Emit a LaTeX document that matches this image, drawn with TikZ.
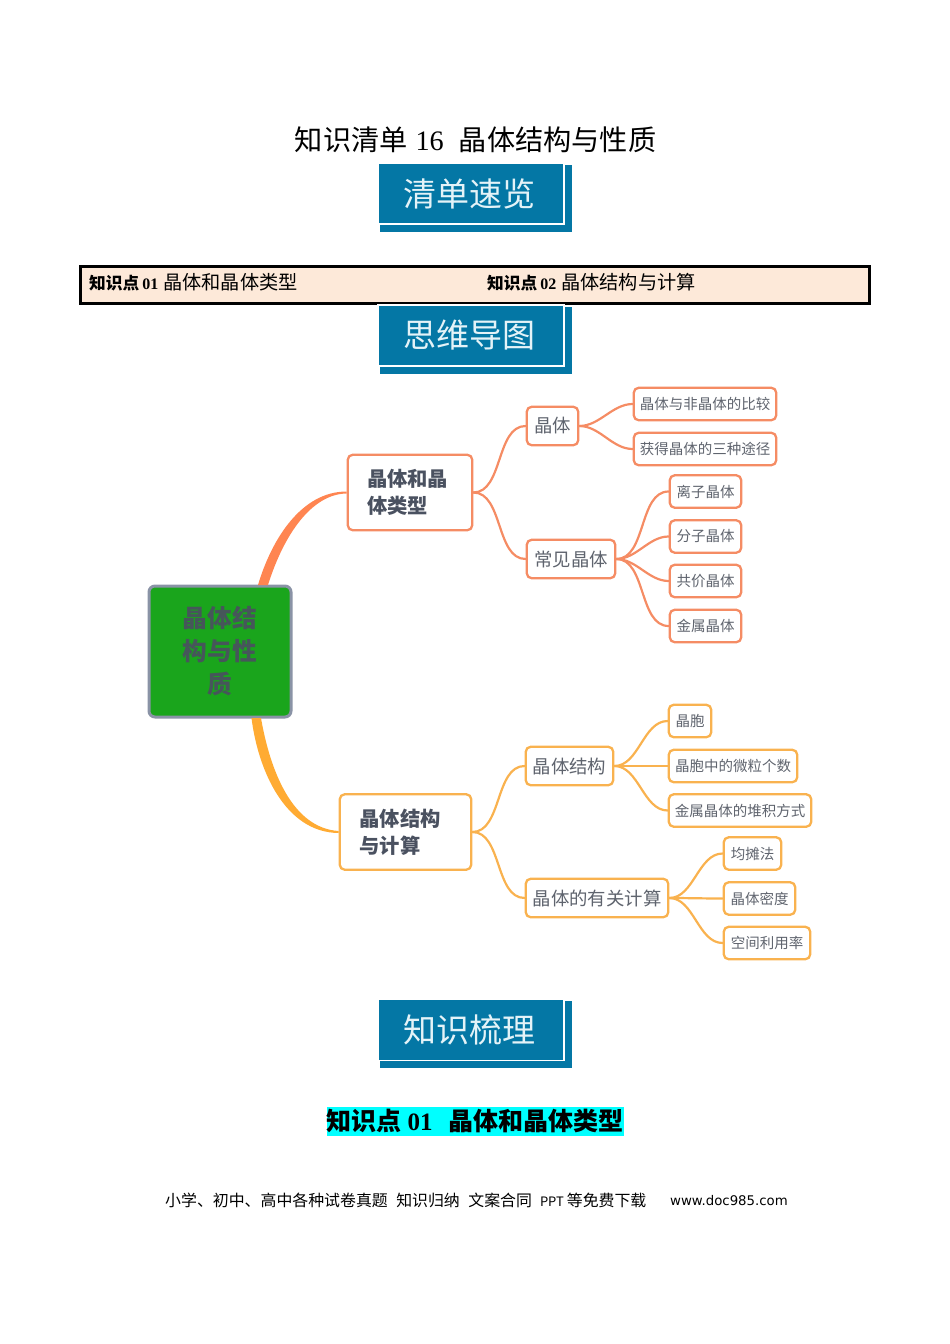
\documentclass[tikz,border=0pt]{standalone}
\usepackage{fontspec}
\usepackage{xcolor}
\setmainfont{Noto Sans CJK SC}
\newfontfamily\latinserif{Liberation Serif}
\newfontfamily\latinsans{DejaVu Sans}
\usetikzlibrary{calc}

\definecolor{headBlue}{HTML}{0477A5}
\definecolor{headText}{HTML}{E4F3F8}
\definecolor{bandFill}{HTML}{FDE9D9}
\definecolor{markCyan}{HTML}{00FFFF}
\definecolor{rootGreen}{HTML}{1AA51C}
\definecolor{rootEdge}{HTML}{8A93A6}
\definecolor{rootText}{HTML}{46565A}
\definecolor{lineRed}{HTML}{F58C64}
\definecolor{lineGold}{HTML}{F9B24F}
\definecolor{thickRed}{HTML}{FF8551}
\definecolor{thickGold}{HTML}{FFAB33}
\definecolor{boldText}{HTML}{4A5160}
\definecolor{leafText}{HTML}{5F646E}

\tikzset{
    headbox/.style={fill=headBlue, draw=white, line width=1.5pt, text=headText, inner sep=0pt,
        minimum width=186pt, minimum height=61pt, font=\fontsize{33}{36}\selectfont},
    headshadow/.style={fill=headBlue, inner sep=0pt, minimum width=192pt, minimum height=67pt},
    bandbox/.style={fill=bandFill, draw=black, line width=2.6pt, inner sep=0pt,
        minimum width=789pt, minimum height=37pt},
    bandtext/.style={anchor=west, inner sep=0pt, font=\fontsize{19.2}{22}\selectfont},
    rootbox/.style={fill=rootGreen, draw=rootEdge, line width=3pt, rounded corners=6pt, inner sep=0pt,
        minimum width=142pt, minimum height=131pt, align=center, text=rootText,
        font=\bfseries\fontsize{24.7}{33}\selectfont},
    topicbox/.style={fill=white, line width=2.3pt, rounded corners=5pt, inner sep=0pt,
        minimum height=75.5pt, align=left, text=boldText, font=\bfseries\fontsize{20.3}{27}\selectfont},
    midbox/.style={fill=white, line width=2.3pt, rounded corners=5pt, inner sep=0pt,
        minimum height=38.5pt, text=leafText, font=\fontsize{18.4}{22}\selectfont},
    leafbox/.style={fill=white, line width=2.3pt, rounded corners=5pt, inner sep=0pt,
        minimum height=32.5pt, text=leafText, font=\fontsize{14.5}{18}\selectfont},
    linkline/.style={line width=2.2pt, line cap=round, looseness=0.9},
    plaintext/.style={inner sep=0pt}
}

\begin{document}
\begin{tikzpicture}[x=1pt, y=-1pt]
    \useasboundingbox (0,0) rectangle (950,1344);

    % Title
    \node[plaintext, font=\fontsize{28.2}{32}\selectfont] (title) at (475.5,140)
        {知识清单\hspace{8pt}{\latinserif 16}\hspace{15pt}晶体结构与性质};

    % Section headers
    \node[headshadow] (shadowOne) at (476,198.5) {};
    \node[headbox] (headOne) at (471,193.5) {\hspace*{-4pt}清单速览};

    % Index band
    \node[bandbox] (band) at (475,285) {};
    \node[bandtext] (bandLeft) at (89,282)
        {{\bfseries\fontsize{16.7}{20}\selectfont 知识点}\hspace{3pt}{\latinserif\bfseries\fontsize{16}{20}\selectfont 01}\hspace{5pt}晶体和晶体类型};
    \node[bandtext] (bandRight) at (487,282)
        {{\bfseries\fontsize{16.7}{20}\selectfont 知识点}\hspace{3pt}{\latinserif\bfseries\fontsize{16}{20}\selectfont 02}\hspace{5pt}晶体结构与计算};

    \node[headshadow] (shadowTwo) at (476,340) {};
    \node[headbox] (headTwo) at (471,335.5) {\hspace*{-4pt}思维导图};

    % Mind map: root and topics
    \node[rootbox] (root) at (220,651.5) {晶体结\\构与性\\质};
    \node[topicbox, draw=lineRed, minimum width=124.5pt, text width=86pt] (crystalTypes) at (410,492.5) {晶体和晶\\体类型};
    \node[topicbox, draw=lineGold, minimum width=131.5pt, text width=92pt] (structCalc) at (405.5,832) {晶体结构\\与计算};

    % Tapered branches from the root
    \coordinate (redStart) at (258,585);
    \coordinate (redInner) at (268,585);
    \coordinate (goldStart) at (251.5,718);
    \coordinate (goldInner) at (261,718);
    \fill[thickRed] (redStart) .. controls (272,538) and (302,491.5) .. ($(crystalTypes.west)+(0,-1)$)
        -- ($(crystalTypes.west)+(0,1)$) .. controls (312,494) and (284,534) .. (redInner) -- cycle;
    \fill[thickGold] (goldStart) .. controls (258,770) and (285,832.5) .. ($(structCalc.west)+(0,1)$)
        -- ($(structCalc.west)+(0,-1)$) .. controls (292,828) and (270,770) .. (goldInner) -- cycle;

    % Second level
    \foreach \name/\cx/\cy/\boxw/\label in {
        crystal/552.5/426/51.5/晶体,
        common/571/559/88.5/常见晶体} {
        \node[midbox, draw=lineRed, minimum width=\boxw pt] (\name) at (\cx,\cy) {\label};
    }
    \foreach \name/\cx/\cy/\boxw/\label in {
        structure/569.5/766/87.5/晶体结构,
        calc/597/898/142.5/晶体的有关计算} {
        \node[midbox, draw=lineGold, minimum width=\boxw pt] (\name) at (\cx,\cy) {\label};
    }

    % Leaves
    \foreach \name/\cx/\cy/\boxw/\label in {
        compare/705/404/142.5/晶体与非晶体的比较,
        routes/705/449/142.5/获得晶体的三种途径,
        ionic/705.5/491.5/71.5/离子晶体,
        molecular/705.5/536.5/71.5/分子晶体,
        covalent/705.5/581/71.5/共价晶体,
        metallic/705.5/626/71.5/金属晶体} {
        \node[leafbox, draw=lineRed, minimum width=\boxw pt] (\name) at (\cx,\cy) {\label};
    }
    \foreach \name/\cx/\cy/\boxw/\label in {
        cell/690/721/42.5/晶胞,
        particles/733/766/128.5/晶胞中的微粒个数,
        packing/740/810.5/142.5/金属晶体的堆积方式,
        share/752.5/853.5/57.5/均摊法,
        density/759.5/898.5/71.5/晶体密度,
        usage/767/943/86.5/空间利用率} {
        \node[leafbox, draw=lineGold, minimum width=\boxw pt] (\name) at (\cx,\cy) {\label};
    }

    % Connectors
    \foreach \parentn/\child in {crystalTypes/crystal, crystalTypes/common, crystal/compare, crystal/routes,
        common/ionic, common/molecular, common/covalent, common/metallic} {
        \draw[linkline, lineRed] (\parentn.east) to[out=0, in=180] (\child.west);
    }
    \foreach \parentn/\child in {structCalc/structure, structCalc/calc, structure/cell, structure/particles,
        structure/packing, calc/share, calc/density, calc/usage} {
        \draw[linkline, lineGold] (\parentn.east) to[out=0, in=180] (\child.west);
    }

    % Knowledge section
    \node[headshadow] (shadowThree) at (476,1034) {};
    \node[headbox] (headThree) at (471,1030) {\hspace*{-4pt}知识梳理};

    \node[plaintext, fill=markCyan, minimum height=29pt, font=\bfseries\fontsize{25}{29}\selectfont] (pointOne) at (475,1121)
        {知识点\hspace{6pt}{\latinserif 01}\hspace{16pt}晶体和晶体类型};

    % Footer
    \node[plaintext, anchor=west, font=\fontsize{15.9}{18}\selectfont] (footLeft) at (165,1200)
        {小学、初中、高中各种试卷真题\hspace{8.5pt}知识归纳\hspace{8.5pt}文案合同\hspace{8pt}{\fontsize{13}{18}\selectfont PPT}\hspace{3pt}等免费下载};
    \node[plaintext, anchor=west, font=\latinsans\fontsize{13.3}{18}\selectfont] (footRight) at (670,1201) {www.doc985.com};
\end{tikzpicture}
\end{document}
